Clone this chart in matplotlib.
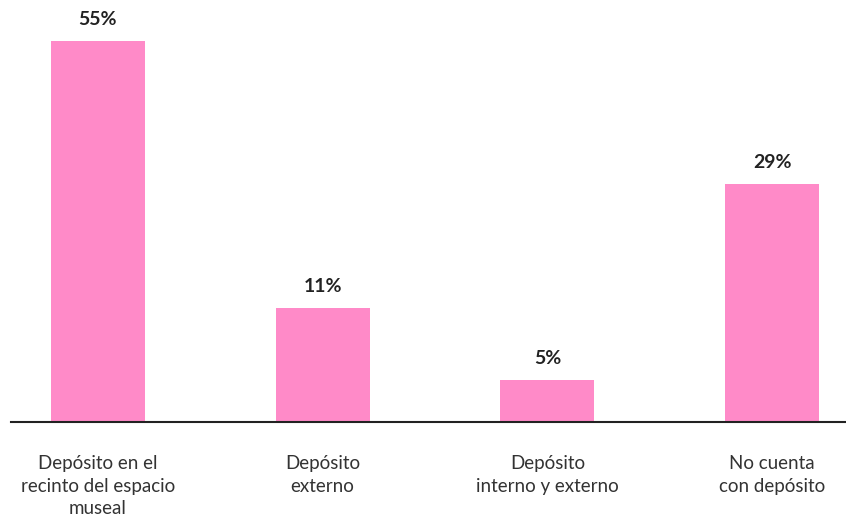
import matplotlib.pyplot as plt

categorias = ['Depósito en el\nrecinto del espacio\nmuseal', 'Depósito\nexterno',
              'Depósito\ninterno y externo', 'No cuenta\ncon depósito']
# alturas de barra (no son proporcionales a las etiquetas)
alturas = [55, 16.5, 6.1, 34.4]
etiquetas = ['55%', '11%', '5%', '29%']

plt.rcParams['font.family'] = ['Lato', 'DejaVu Sans']

fig = plt.figure(figsize=(8.46, 5.24), dpi=100)
ax = fig.add_axes([11 / 846, (524 - 422) / 524, 835 / 846, 422 / 524])

x = range(len(categorias))
barras = ax.bar(x, alturas, width=0.418, color='#ff8ac8')
ax.bar_label(barras, labels=etiquetas, padding=9, fontsize=14,
             fontweight='bold', color='#222222')

ax.set_xlim(-0.387, 3.329)
ax.set_ylim(0, 60.9)
ax.set_xticks(list(x))
ax.set_xticklabels(categorias, fontsize=13.5, color='#333333', linespacing=1.38)
ax.tick_params(axis='x', length=0, pad=24)
ax.set_yticks([])
for lado in ['top', 'right', 'left']:
    ax.spines[lado].set_visible(False)
ax.spines['bottom'].set_color('#222222')
ax.spines['bottom'].set_linewidth(1.5)

fig.savefig('out.png', dpi=100)
